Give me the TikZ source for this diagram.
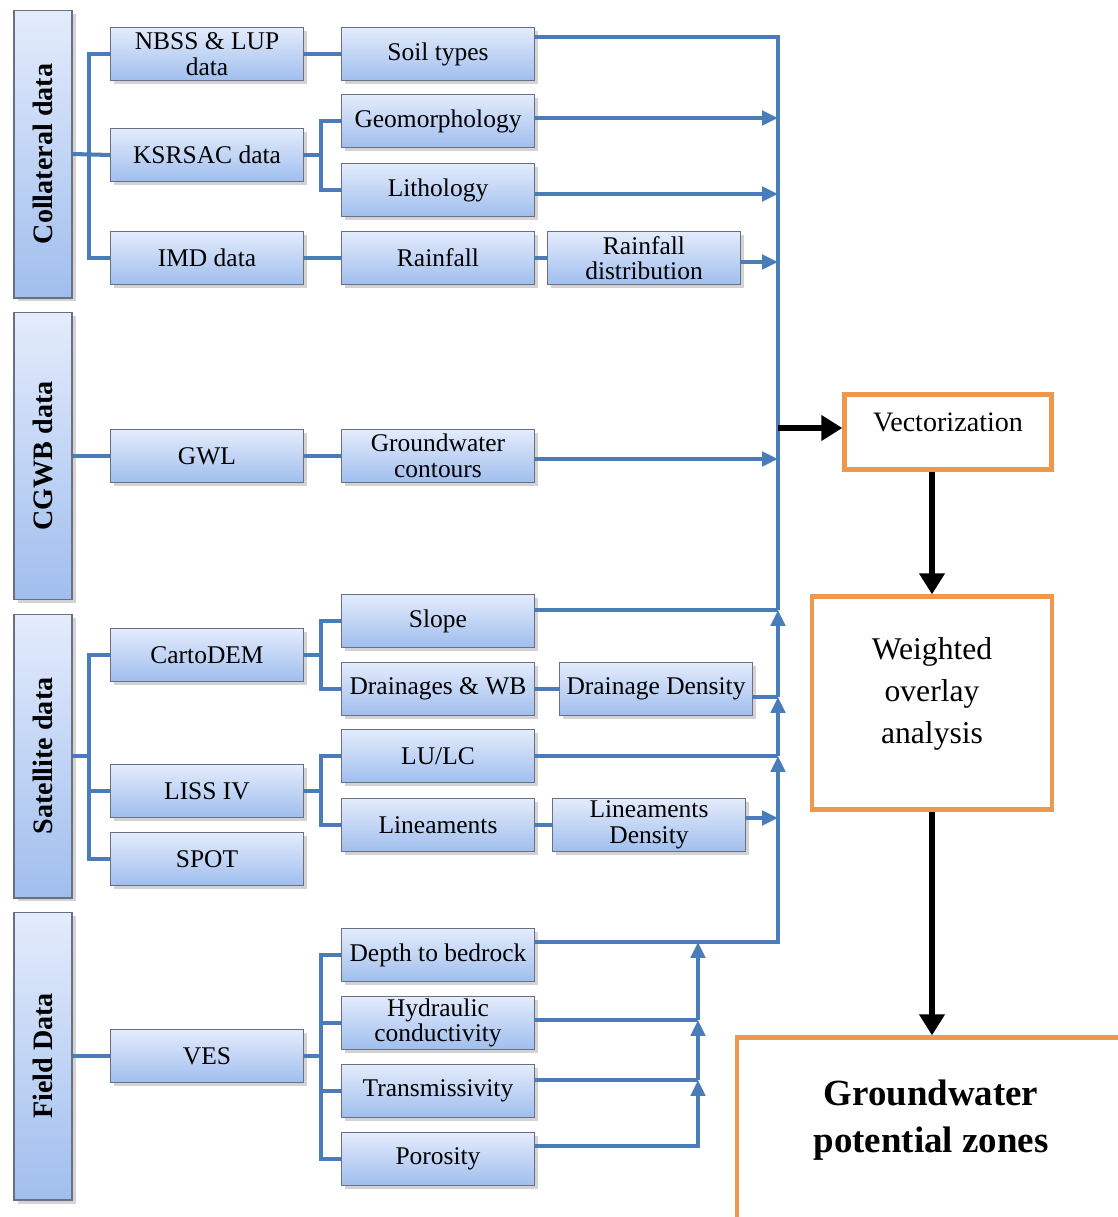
\documentclass[tikz,border=0pt]{standalone}
\usepackage{fontspec}
\setmainfont{Liberation Serif}
\usetikzlibrary{arrows.meta,shadows}

\definecolor{boxtop}{RGB}{228,236,252}
\definecolor{boxbottom}{RGB}{160,190,238}
\definecolor{boxline}{RGB}{105,112,130}
\definecolor{linkblue}{RGB}{74,124,185}
\definecolor{resorange}{RGB}{238,152,78}

\begin{document}
\begin{tikzpicture}[x=0.02cm,y=-0.02cm,>={Triangle[length=9pt,width=8pt]},
  data node/.style={rectangle,draw=boxline,line width=0.6pt,top color=boxtop,bottom color=boxbottom,
    drop shadow={shadow xshift=2pt,shadow yshift=-2pt,opacity=0.35},
    minimum width=3.86cm,minimum height=1.06cm,inner sep=1pt,align=center,
    font=\fontsize{14.5}{14.5}\selectfont},
  group node/.style={data node,rotate=90,minimum height=1.16cm,
    font=\fontsize{16}{16}\selectfont\bfseries},
  result node/.style={rectangle,draw=resorange,line width=2.4pt,fill=white,align=center},
  link/.style={draw=linkblue,line width=2.3pt},
  flow/.style={->,>={Triangle[length=12pt,width=14pt]},line width=3.5pt,black}]

  \useasboundingbox (0,0) rectangle (1117,1217);

  % source groups
  \node[group node,minimum width=5.76cm] (coll) at (43,154) {Collateral data};
  \node[group node,minimum width=5.74cm] (cgwb) at (43,456) {CGWB data};
  \node[group node,minimum width=5.68cm] (sat) at (43,756) {Satellite data};
  \node[group node,minimum width=5.76cm] (field) at (43,1056) {Field Data};

  \node[data node] (nbss) at (207,54) {NBSS \& LUP\\data};
  \node[data node] (ksrsac) at (207,155) {KSRSAC data};
  \node[data node] (imd) at (207,258) {IMD data};
  \node[data node] (gwl) at (207,456) {GWL};
  \node[data node] (carto) at (207,655) {CartoDEM};
  \node[data node] (liss) at (207,791) {LISS IV};
  \node[data node] (spot) at (207,859) {SPOT};
  \node[data node] (ves) at (207,1056) {VES};

  % thematic layers
  \node[data node] (soil) at (438,54) {Soil types};
  \node[data node] (geo) at (438,121) {Geomorphology};
  \node[data node] (lith) at (438,190) {Lithology};
  \node[data node] (rain) at (438,258) {Rainfall};
  \node[data node] (gwc) at (438,456) {Groundwater\\contours};
  \node[data node] (slope) at (438,621) {Slope};
  \node[data node] (drain) at (438,689) {Drainages \& WB};
  \node[data node] (lulc) at (438,756) {LU/LC};
  \node[data node] (lin) at (438,825) {Lineaments};
  \node[data node] (depth) at (438,955) {Depth to bedrock};
  \node[data node] (hyd) at (438,1023) {Hydraulic\\conductivity};
  \node[data node] (trans) at (438,1091) {Transmissivity};
  \node[data node] (por) at (438,1159) {Porosity};

  \node[data node] (raindist) at (644,258) {Rainfall\\distribution};
  \node[data node] (ddens) at (656,689) {Drainage Density};
  \node[data node] (ldens) at (649,825) {Lineaments\\Density};

  % results
  \node[result node,minimum width=4.14cm,minimum height=1.5cm,text depth=0.4cm,
    font=\fontsize{16}{16}\selectfont] (vect) at (948,432) {Vectorization};
  \node[result node,minimum width=4.8cm,minimum height=4.26cm,text depth=0.5cm,
    font=\fontsize{18}{24}\selectfont] (wover) at (932,703) {Weighted\\overlay\\analysis};
  \node[result node,minimum width=7.76cm,minimum height=3.74cm,text depth=0.6cm,
    font=\fontsize{21}{27}\selectfont\bfseries] (gpz) at (931,1131) {Groundwater\\potential zones};

  \coordinate (j1) at (778,610);
  \coordinate (j2) at (778,697);
  \coordinate (j3) at (778,756);
  \coordinate (j4) at (778,942);
  \coordinate (k2) at (698,1020);
  \coordinate (k3) at (698,1080);

  % groups to sources
  \draw[link] (coll.south) -- (ksrsac.west);
  \draw[link] (nbss.west) -- ++(-21,0) |- (imd.west);
  \draw[link] (cgwb.south) -- (gwl.west);
  \draw[link] (sat.south) -- ++(18,0);
  \draw[link] (carto.west) -- ++(-21,0) |- (spot.west);
  \draw[link] (liss.west) -- ++(-21,0);
  \draw[link] (field.south) -- (ves.west);

  % sources to layers
  \draw[link] (nbss) -- (soil);
  \draw[link] (ksrsac.east) -- ++(18,0);
  \draw[link] (geo.west) -- ++(-20,0) |- (lith.west);
  \draw[link] (imd) -- (rain);
  \draw[link] (rain) -- (raindist);
  \draw[link] (gwl) -- (gwc);
  \draw[link] (carto.east) -- ++(18,0);
  \draw[link] (slope.west) -- ++(-20,0) |- (drain.west);
  \draw[link] (drain) -- (ddens);
  \draw[link] (liss.east) -- ++(18,0);
  \draw[link] (lulc.west) -- ++(-20,0) |- (lin.west);
  \draw[link] (lin) -- (ldens);
  \draw[link] (ves.east) -- ++(18,0);
  \draw[link] (depth.west) -- ++(-20,0) |- (por.west);
  \draw[link] (hyd.west) -- ++(-20,0);
  \draw[link] (trans.west) -- ++(-20,0);

  % layers to the collector line
  \draw[link] (soil.east |- 0,37) -| (j1);
  \draw[link,->] (geo.east |- 0,118) -- (j1 |- 0,118);
  \draw[link,->] (lith.east |- 0,194) -- (j1 |- 0,194);
  \draw[link,->] (raindist.east |- 0,262) -- (j1 |- 0,262);
  \draw[link,->] (gwc.east |- 0,459) -- (j1 |- 0,459);
  \draw[link] (slope.east |- j1) -- (j1);
  \draw[link,->] (j2) -- (j1);
  \draw[link] (ddens.east |- j2) -- (j2);
  \draw[link,->] (j3) -- (j2);
  \draw[link] (lulc.east |- j3) -- (j3);
  \draw[link,->] (ldens.east |- 0,818) -- (j1 |- 0,818);
  \draw[link,->] (depth.east |- j4) -| (j3);

  \draw[link,->] (por.east |- 0,1146) -| (k3);
  \draw[link] (trans.east |- k3) -- (k3);
  \draw[link,->] (k3) -- (k2);
  \draw[link] (hyd.east |- k2) -- (k2);
  \draw[link,->] (k2) -- (k2 |- j4);

  % processing
  \draw[flow] (j1 |- 0,428) -- (vect.west |- 0,428);
  \draw[flow] (wover.north |- vect.south) -- (wover.north);
  \draw[flow] (wover.south) -- (gpz.north -| wover.south);

\end{tikzpicture}
\end{document}
